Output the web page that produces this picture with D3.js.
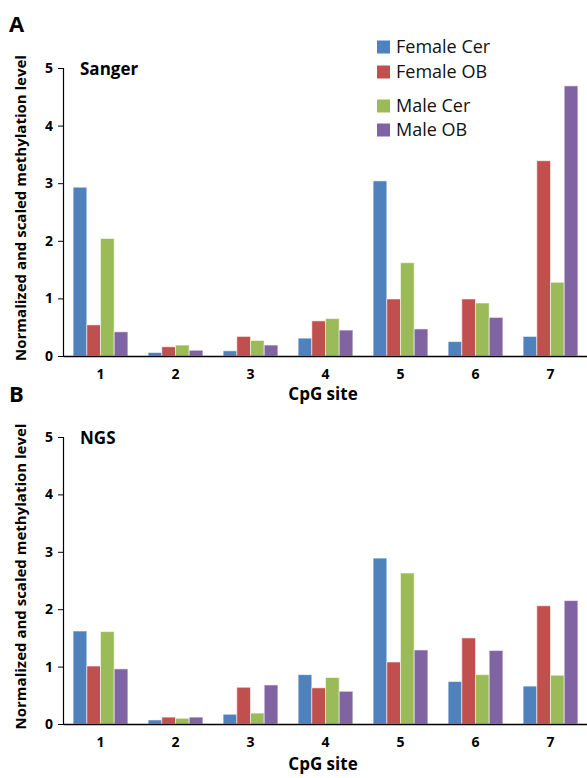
<!DOCTYPE html>
<html><head><meta charset="utf-8">
<script src="https://cdn.jsdelivr.net/npm/d3@7"></script>
<style>body{margin:0;background:#fff;} svg{display:block;}</style>
</head><body>
<script>
const sites = ["1","2","3","4","5","6","7"];
const seriesNames = ["Female Cer","Female OB","Male Cer","Male OB"];
const colors = ["#4F81BD","#C0504D","#9BBB59","#8064A2"];
const yTicks = [0,1,2,3,4,5];
// Panel A: Sanger
const sangerFemaleCer = [2.93,0.06,0.09,0.31,3.04,0.25,0.34];
const sangerFemaleOB  = [0.54,0.16,0.34,0.61,0.99,0.99,3.39];
const sangerMaleCer   = [2.04,0.19,0.27,0.65,1.62,0.92,1.28];
const sangerMaleOB    = [0.42,0.10,0.19,0.45,0.47,0.67,4.69];
// Panel B: NGS
const ngsFemaleCer = [1.62,0.07,0.17,0.86,2.89,0.74,0.66];
const ngsFemaleOB  = [1.01,0.12,0.64,0.63,1.08,1.50,2.06];
const ngsMaleCer   = [1.61,0.10,0.19,0.81,2.63,0.86,0.85];
const ngsMaleOB    = [0.96,0.12,0.68,0.57,1.29,1.28,2.15];

const W = 587, H = 778;
const svg = d3.select("body").append("svg").attr("width", W).attr("height", H);
const font = "'Open Sans', sans-serif";

function panel(letter, title, series, y0, y5, letterY, xLabelY) {
  const g = svg.append("g");
  const x = d3.scaleBand().domain(sites).range([63, 588]).paddingInner(0.27).paddingOuter(0.135);
  const xs = d3.scaleBand().domain(seriesNames).range([0, x.bandwidth()]);
  const y = d3.scaleLinear().domain([0,5]).range([y0, y5]);

  sites.forEach((s, i) => {
    series.forEach((vals, k) => {
      g.append("rect")
        .attr("x", x(s) + xs(seriesNames[k]))
        .attr("y", y(vals[i]))
        .attr("width", xs.bandwidth())
        .attr("height", y(0) - y(vals[i]))
        .attr("fill", colors[k])
        .attr("stroke", "#fff").attr("stroke-opacity", 0.55).attr("stroke-width", 1);
    });
  });

  const ya = g.append("g").attr("transform", "translate(63,0)")
    .call(d3.axisLeft(y).tickValues(yTicks).tickSize(5).tickPadding(5).tickFormat(d3.format("d")));
  ya.select(".domain").attr("stroke", "#000").attr("stroke-width", 1.2);
  ya.selectAll(".tick line").attr("stroke", "#000");
  ya.selectAll("text").attr("font-family", font).attr("font-weight", "bold").attr("font-size", 14).attr("fill", "#000");

  const xa = g.append("g").attr("transform", `translate(0,${y0})`)
    .call(d3.axisBottom(x).tickSize(0).tickPadding(13));
  xa.select(".domain").attr("stroke", "#000").attr("stroke-width", 1.5);
  xa.selectAll("text").attr("font-family", font).attr("font-weight", "bold").attr("font-size", 14).attr("fill", "#000");

  g.append("text").attr("x", 9).attr("y", letterY).text(letter)
    .attr("font-family", font).attr("font-weight", "bold").attr("font-size", 22);
  g.append("text").attr("x", 80).attr("y", y5 + 7).text(title)
    .attr("font-family", font).attr("font-weight", "bold").attr("font-size", 17);
  g.append("text").attr("x", 323).attr("y", xLabelY).attr("text-anchor", "middle").text("CpG site")
    .attr("font-family", font).attr("font-weight", "bold").attr("font-size", 17);
  g.append("text").attr("transform", `translate(26,${(y0+y5)/2 - 4}) rotate(-90)`)
    .attr("text-anchor", "middle").text("Normalized and scaled methylation level")
    .attr("font-family", font).attr("font-weight", "bold").attr("font-size", 15);
  return g;
}

panel("A", "Sanger", [sangerFemaleCer, sangerFemaleOB, sangerMaleCer, sangerMaleOB], 356, 68, 32, 400);
panel("B", "NGS", [ngsFemaleCer, ngsFemaleOB, ngsMaleCer, ngsMaleOB], 724, 437, 402, 770);

const legY = [47, 72, 106, 130];
const leg = svg.append("g");
seriesNames.forEach((n, k) => {
  leg.append("rect").attr("x", 377).attr("y", legY[k] - 6.5).attr("width", 13).attr("height", 13).attr("fill", colors[k]);
  leg.append("text").attr("x", 396).attr("y", legY[k] + 6).text(n)
    .attr("font-family", font).attr("font-size", 18).attr("fill", "#111");
});
</script>
</body></html>
